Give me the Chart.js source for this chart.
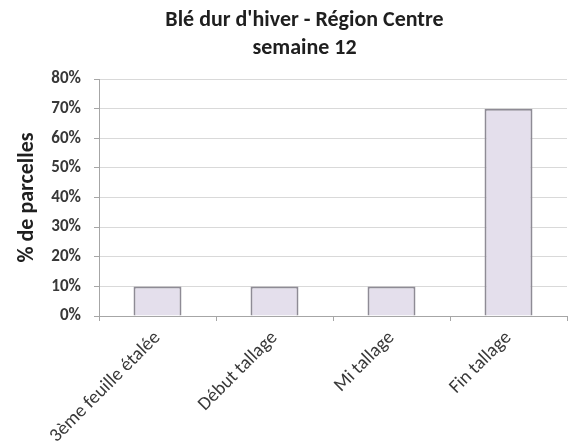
<!DOCTYPE html>
<html>
<head>
<meta charset="utf-8">
<script src="https://cdn.jsdelivr.net/npm/chart.js@4"></script>
<style>
  html, body { margin: 0; padding: 0; background: #fff; }
  #wrap { width: 576px; height: 443px; }
</style>
</head>
<body>
<div id="wrap"><canvas id="stades"></canvas></div>
<script>
const labels = [
  "3ème feuille étalée",
  "Début tallage",
  "Mi tallage",
  "Fin tallage",
];

const parcelles = [10, 10, 10, 70];

const titleLines = ["Blé dur d'hiver - Région Centre", "semaine 12"];

const txt = "#383838";
const fontFamily = "Carlito, Lato, 'Open Sans', sans-serif";

const ctx = document.getElementById("stades");

const stadesChart = new Chart(ctx, {
  type: "bar",
  data: {
    labels: labels,
    datasets: [
      {
        label: "% de parcelles",
        data: parcelles,
        backgroundColor: "#e4dfec",
        borderColor: "#8e8b95",
        borderWidth: 2,
        categoryPercentage: 1,
        barPercentage: 0.41,
      },
    ],
  },
  options: {
    responsive: true,
    maintainAspectRatio: false,
    animation: false,
    layout: {
      // wide left padding keeps the title centred like the original
      padding: { left: 42, right: 9, top: 7, bottom: 0 },
    },
    plugins: {
      legend: { display: false },
      tooltip: { enabled: false },
      title: {
        display: true,
        text: titleLines,
        color: "#1f1f1f",
        font: { family: fontFamily, size: 22, weight: "bold", lineHeight: 1.25 },
        padding: { top: 0, bottom: 17 },
      },
    },
    scales: {
      x: {
        offset: true,
        border: { color: "#a6a6a6", width: 1 },
        grid: {
          offset: true,
          drawOnChartArea: false,
          drawTicks: true,
          tickLength: 5,
          color: "#a6a6a6",
        },
        ticks: {
          color: txt,
          maxRotation: 45,
          minRotation: 45,
          font: { family: fontFamily, size: 19 },
          padding: 6,
        },
        afterFit: (axis) => {
          axis.height = 127;
        },
      },
      y: {
        min: 0,
        max: 80,
        border: { color: "#a6a6a6", width: 1 },
        grid: {
          color: "#d9d9d9",
          tickLength: 5,
          tickColor: "#a6a6a6",
        },
        ticks: {
          stepSize: 10,
          color: txt,
          padding: 13,
          font: { family: fontFamily, size: 17, weight: "bold" },
          callback: (value) => value + "%",
        },
        title: {
          display: true,
          text: "% de parcelles",
          color: "#1f1f1f",
          font: { family: fontFamily, size: 22, weight: "bold" },
          padding: { top: -28, bottom: 0 },
        },
        afterFit: (axis) => {
          axis.width = 57;
        },
      },
    },
  },
});
</script>
</body>
</html>
